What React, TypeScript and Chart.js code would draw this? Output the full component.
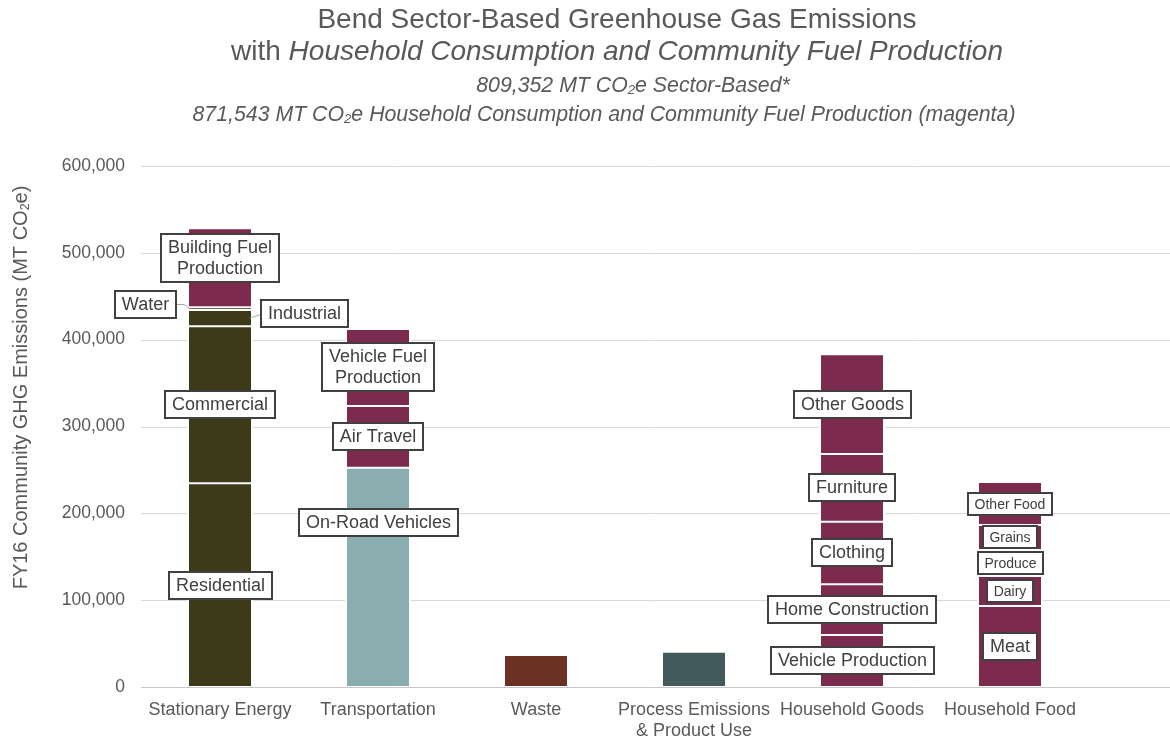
import React, { useEffect, useRef } from 'react';
import { Chart, registerables } from 'chart.js';

Chart.register(...registerables);

// ---------------- data ----------------
const categories: (string | string[])[] = [
  'Stationary Energy',
  'Transportation',
  'Waste',
  ['Process Emissions', '& Product Use'],
  'Household Goods',
  'Household Food',
];

const yTickValues = [0, 100000, 200000, 300000, 400000, 500000, 600000];

const stationaryNames = ['Residential', 'Commercial', 'Industrial', 'Water', 'Building Fuel\nProduction'];
const stationaryValues = [234700, 180800, 18800, 2900, 91200];

const transportNames = ['On-Road Vehicles', 'Air Travel', 'Vehicle Fuel\nProduction'];
const transportValues = [252500, 71000, 88900];

const wasteNames = ['Waste'];
const wasteValues = [36900];

const processNames = ['Process Emissions & Product Use'];
const processValues = [40700];

const goodsNames = ['Vehicle Production', 'Home Construction', 'Clothing', 'Furniture', 'Other Goods'];
const goodsValues = [59900, 58400, 72100, 78000, 114900];

const foodNames = ['Meat', 'Dairy', 'Produce', 'Grains', 'Other Food'];
const foodValues = [93300, 34600, 30000, 28700, 49400];

// ---------------- styles ----------------
const OLIVE = '#3d3a19';
const MAGENTA = '#7d2a4f';
const TEAL = '#8aadb0';
const WASTE_C = '#6b3123';
const PROCESS_C = '#425a5c';

const stationaryColors = [OLIVE, OLIVE, OLIVE, OLIVE, MAGENTA];
const transportColors = [TEAL, MAGENTA, MAGENTA];
const wasteColors = [WASTE_C];
const processColors = [PROCESS_C];
const goodsColors = [MAGENTA, MAGENTA, MAGENTA, MAGENTA, MAGENTA];
const foodColors = [MAGENTA, MAGENTA, MAGENTA, MAGENTA, MAGENTA];

const unlabeled = new Set(['Waste', 'Process Emissions & Product Use']);
const smallLabels = new Set(['Other Food', 'Grains', 'Produce', 'Dairy']);
// label placement tweaks (shift in value units, side = callout beside bar)
const labelPlacement: Record<string, { shift?: number; side?: 'left' | 'right' }> = {
  'Building Fuel\nProduction': { shift: 11500 },
  Water: { shift: 5000, side: 'left' },
  Industrial: { shift: 4800, side: 'right' },
  'On-Road Vehicles': { shift: 62700 },
};

const FONT = '"Liberation Sans", Arial, sans-serif';
const TEXT_GRAY = '#595959';
const LABEL_GRAY = '#404040';

const groups = [
  { cat: 0, names: stationaryNames, values: stationaryValues, colors: stationaryColors },
  { cat: 1, names: transportNames, values: transportValues, colors: transportColors },
  { cat: 2, names: wasteNames, values: wasteValues, colors: wasteColors },
  { cat: 3, names: processNames, values: processValues, colors: processColors },
  { cat: 4, names: goodsNames, values: goodsValues, colors: goodsColors },
  { cat: 5, names: foodNames, values: foodValues, colors: foodColors },
];

type Run = { text: string; italic?: boolean; sub?: boolean };

function drawRuns(ctx: CanvasRenderingContext2D, runs: Run[], cx: number, cy: number, size: number) {
  const fontFor = (r: Run) => `${r.italic ? 'italic ' : ''}${r.sub ? size * 0.62 : size}px ${FONT}`;
  let total = 0;
  const widths = runs.map((r) => {
    ctx.font = fontFor(r);
    const w = ctx.measureText(r.text).width;
    total += w;
    return w;
  });
  let x = cx - total / 2;
  ctx.textAlign = 'left';
  ctx.textBaseline = 'middle';
  runs.forEach((r, i) => {
    ctx.font = fontFor(r);
    ctx.fillText(r.text, x, r.sub ? cy + size * 0.22 : cy);
    x += widths[i];
  });
}

const gridPlugin = {
  id: 'extendedGrid',
  beforeDatasetsDraw(chart: any) {
    const { ctx, chartArea, scales } = chart;
    const y = scales.y;
    ctx.save();
    ctx.lineWidth = 1;
    y.ticks.forEach((t: any) => {
      const py = Math.round(y.getPixelForValue(t.value)) + 0.5;
      ctx.strokeStyle = t.value === 0 ? '#c8c8c8' : '#d9d9d9';
      ctx.beginPath();
      ctx.moveTo(chartArea.left, py);
      ctx.lineTo(chart.width, py);
      ctx.stroke();
    });
    ctx.restore();
  },
};

const labelPlugin = {
  id: 'segmentLabels',
  afterDatasetsDraw(chart: any) {
    const { ctx, scales } = chart;
    const yScale = scales.y;
    ctx.save();
    chart.data.datasets.forEach((ds: any, i: number) => {
      const name: string = ds.label;
      if (unlabeled.has(name)) return;
      const meta = chart.getDatasetMeta(i);
      const el = meta.data[ds.catIndex];
      if (!el) return;
      const { x, y, base, width } = el.getProps(['x', 'y', 'base', 'width'], true);
      const segCenter = (y + base) / 2;
      const place = labelPlacement[name] || {};
      const shiftPx = place.shift ? yScale.getPixelForValue(place.shift) - yScale.getPixelForValue(0) : 0;
      const cy = segCenter + shiftPx;
      const small = smallLabels.has(name);
      const size = small ? 14 : 18;
      const lineH = size * 1.17;
      const padX = small ? 6.5 : 7;
      const padY = 3;
      const lines = name.split('\n');
      ctx.font = `${size}px ${FONT}`;
      const tw = Math.max(...lines.map((l) => ctx.measureText(l).width));
      const w = Math.round(tw + padX * 2);
      const h = Math.round(lines.length * lineH + padY * 2);
      let cx = x;
      const barLeft = x - width / 2;
      const barRight = x + width / 2;
      if (place.side === 'left') cx = barLeft - 11 - w / 2;
      if (place.side === 'right') cx = barRight + 8 + w / 2;
      const left = Math.round(cx - w / 2);
      const top = Math.round(cy - h / 2);

      // leader lines
      if (place.side) {
        ctx.strokeStyle = '#a6a6a6';
        ctx.lineWidth = 1;
        ctx.beginPath();
        if (place.side === 'left') {
          ctx.moveTo(left + w, Math.round(cy) + 0.5);
          ctx.lineTo(left + w + 8, Math.round(cy) + 0.5);
          ctx.lineTo(barLeft + 3, segCenter);
        } else {
          ctx.moveTo(barRight - 3, segCenter);
          ctx.lineTo(left, Math.round(cy) + 0.5);
        }
        ctx.stroke();
      }

      ctx.fillStyle = '#ffffff';
      ctx.fillRect(left, top, w, h);
      ctx.strokeStyle = LABEL_GRAY;
      ctx.lineWidth = 2;
      ctx.strokeRect(left, top, w, h);
      ctx.fillStyle = LABEL_GRAY;
      ctx.textAlign = 'center';
      ctx.textBaseline = 'middle';
      lines.forEach((l, k) => {
        const ly = top + padY + lineH * (k + 0.5) + 0.5;
        ctx.fillText(l, left + w / 2, ly);
      });
    });
    ctx.restore();
  },
};

const textPlugin = {
  id: 'titles',
  afterDraw(chart: any) {
    const ctx = chart.ctx as CanvasRenderingContext2D;
    ctx.save();
    ctx.fillStyle = TEXT_GRAY;
    drawRuns(ctx, [{ text: 'Bend Sector-Based Greenhouse Gas Emissions' }], 617, 20, 28);
    drawRuns(
      ctx,
      [{ text: 'with ' }, { text: 'Household Consumption and Community Fuel Production', italic: true }],
      617,
      52,
      28
    );
    drawRuns(
      ctx,
      [
        { text: '809,352 MT CO', italic: true },
        { text: '2', italic: true, sub: true },
        { text: 'e Sector-Based*', italic: true },
      ],
      633,
      86,
      21.3
    );
    drawRuns(
      ctx,
      [
        { text: '871,543 MT CO', italic: true },
        { text: '2', italic: true, sub: true },
        { text: 'e Household Consumption and Community Fuel Production (magenta)', italic: true },
      ],
      604,
      115,
      21.3
    );
    // y-axis title
    ctx.translate(21, 387.5);
    ctx.rotate(-Math.PI / 2);
    drawRuns(
      ctx,
      [
        { text: 'FY16 Community GHG Emissions (MT CO' },
        { text: '2', sub: true },
        { text: 'e)' },
      ],
      0,
      0,
      20
    );
    ctx.restore();
  },
};

export default function App() {
  const canvasRef = useRef<HTMLCanvasElement | null>(null);

  useEffect(() => {
    document.body.style.margin = '0';
    if (!canvasRef.current) return;
    Chart.defaults.font.family = FONT;

    const datasets: any[] = [];
    groups.forEach((g) => {
      g.values.forEach((v, k) => {
        datasets.push({
          label: g.names[k],
          catIndex: g.cat,
          data: categories.map((_, c) => (c === g.cat ? v : null)),
          backgroundColor: g.colors[k],
          borderColor: '#ffffff',
          borderWidth: { top: 1, bottom: 1, left: 2, right: 2 },
          borderSkipped: false,
          inflateAmount: 0,
          barThickness: 66,
          stack: 'all',
        });
      });
    });

    const chart = new Chart(canvasRef.current, {
      type: 'bar',
      data: { labels: categories as any, datasets },
      options: {
        responsive: true,
        maintainAspectRatio: false,
        animation: false,
        events: [],
        layout: { padding: { top: 166, right: 81, left: 0, bottom: 0 } },
        plugins: {
          legend: { display: false },
          title: { display: false },
          tooltip: { enabled: false },
        },
        scales: {
          x: {
            stacked: true,
            grid: { display: false, drawTicks: false },
            border: { display: false },
            ticks: {
              color: TEXT_GRAY,
              font: { size: 18, family: FONT },
              padding: 12,
              maxRotation: 0,
              autoSkip: false,
            },
            afterFit: (s: any) => {
              s.height = 55;
            },
          },
          y: {
            stacked: true,
            min: 0,
            max: 600000,
            afterBuildTicks: (s: any) => {
              s.ticks = yTickValues.map((v) => ({ value: v }));
            },
            ticks: {
              color: TEXT_GRAY,
              font: { size: 17.5, family: FONT },
              padding: 16,
              callback: (v: any) => Number(v).toLocaleString('en-US'),
            },
            grid: { display: false, drawTicks: false },
            border: { display: false },
            afterFit: (s: any) => {
              s.width = 141;
            },
          },
        },
      } as any,
      plugins: [gridPlugin, labelPlugin, textPlugin],
    });

    return () => chart.destroy();
  }, []);

  return (
    <div style={{ width: 1170, height: 742, position: 'relative', background: '#ffffff' }}>
      <canvas ref={canvasRef} />
    </div>
  );
}
